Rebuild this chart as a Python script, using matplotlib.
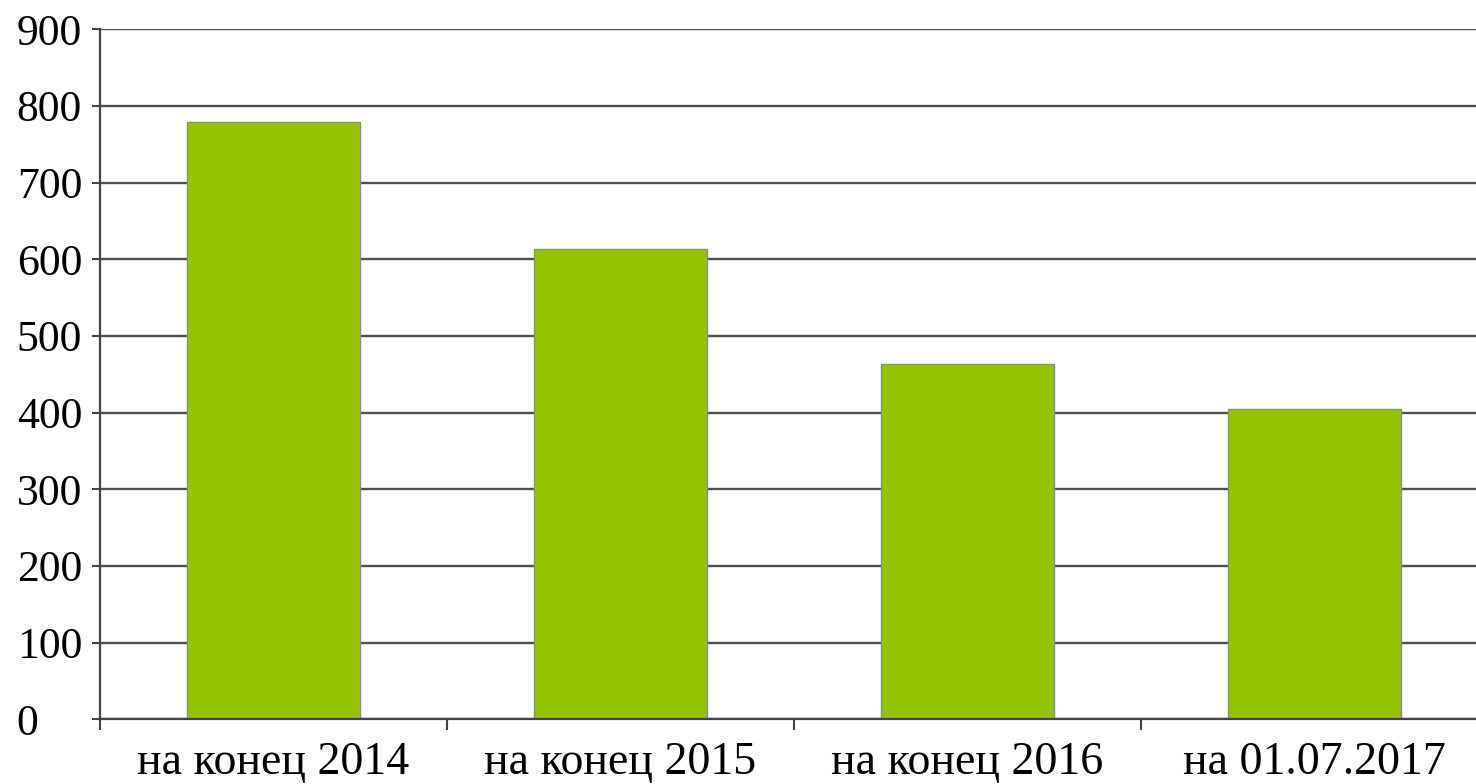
import numpy as np
import matplotlib.pyplot as plt

categories = ['на конец 2014', 'на конец 2015', 'на конец 2016', 'на 01.07.2017']
values = [779, 614, 464, 405]
yticks = [0, 100, 200, 300, 400, 500, 600, 700, 800, 900]

plt.rcParams['font.family'] = ['Liberation Serif', 'DejaVu Serif']

W, H = 1476, 784
fig = plt.figure(figsize=(W / 100, H / 100), dpi=100)
# axes runs a bit past the right edge, as in the original
ax = fig.add_axes([100 / W, (H - 719.3) / H, 1388 / W, 690 / H])

x = np.arange(len(categories))
ax.bar(x, values, width=0.5, color='#94C400', edgecolor='#8a8a8a', linewidth=1.0, zorder=2)

ax.set_xlim(-0.5, len(categories) - 0.5)
ax.set_ylim(0, 900)
ax.set_yticks(yticks)
ax.set_yticklabels([str(v) for v in yticks])
ax.yaxis.grid(True, color='#505050', linewidth=1.7)
ax.set_axisbelow(True)

# x ticks sit on the category boundaries, labels centred between them
ax.set_xticks(np.arange(-0.5, len(categories), 1.0))
ax.set_xticklabels([])
ax.set_xticks(x, minor=True)
ax.set_xticklabels(categories, minor=True, fontsize=33)
ax.tick_params(axis='x', which='minor', length=0, pad=16)
ax.tick_params(axis='x', which='major', length=8, width=1.5, color='#444444')
ax.tick_params(axis='y', length=6, width=1.5, color='#444444', labelsize=31.5, pad=54)
for lbl in ax.get_yticklabels():
    lbl.set_horizontalalignment('left')

for s in ['top', 'right']:
    ax.spines[s].set_visible(False)
for s in ['left', 'bottom']:
    ax.spines[s].set_color('#444444')
    ax.spines[s].set_linewidth(1.6)

plt.savefig('out.png', dpi=100)
